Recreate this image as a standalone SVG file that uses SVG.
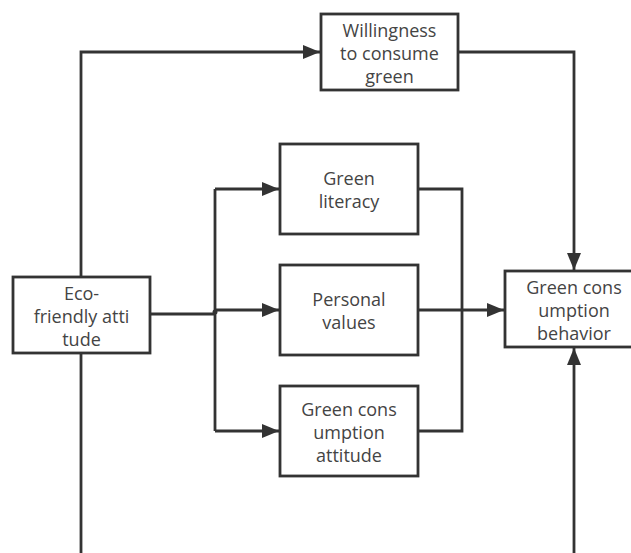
<svg xmlns="http://www.w3.org/2000/svg" width="631" height="553" viewBox="0 0 631 553">
<defs>
<style>
.box{fill:#fff;stroke:#333;stroke-width:2.8}
.ln{fill:none;stroke:#333;stroke-width:2.8}
.t{font-family:"Segoe UI","Open Sans","Noto Sans",sans-serif;font-size:18px;fill:#444;text-anchor:middle}
</style>
<marker id="ah" markerUnits="userSpaceOnUse" markerWidth="17" markerHeight="14" refX="17" refY="7" orient="auto">
<path d="M0,0 L17,7 L0,14 Z" fill="#333"/>
</marker>
</defs>
<rect width="631" height="553" fill="#fff"/>
<g id="connectors">
<path class="ln" d="M81,277 V52 H320" marker-end="url(#ah)"/>
<path class="ln" d="M81,353 V553"/>
<path class="ln" d="M458,52 H574 V270" marker-end="url(#ah)"/>
<path class="ln" d="M574,553 V348" marker-end="url(#ah)"/>
<path class="ln" d="M150,314 H215"/>
<path class="ln" d="M215,189 V431"/>
<path class="ln" d="M215,189 H279" marker-end="url(#ah)"/>
<path class="ln" d="M215,310 H279" marker-end="url(#ah)"/>
<path class="ln" d="M215,431 H279" marker-end="url(#ah)"/>
<circle cx="215" cy="312" r="2.5" fill="#333"/>
<path class="ln" d="M418,189 H462 V431 H418"/>
<path class="ln" d="M418,310 H504" marker-end="url(#ah)"/>
</g>
<g id="willingness">
<rect class="box" x="321" y="14" width="137" height="76"/>
<text class="t" x="389.5" y="37">Willingness</text>
<text class="t" x="389.5" y="60">to consume</text>
<text class="t" x="389.5" y="83">green</text>
</g>
<g id="eco">
<rect class="box" x="13" y="277" width="137" height="76"/>
<text class="t" x="81.5" y="300">Eco-</text>
<text class="t" x="81.5" y="323">friendly atti</text>
<text class="t" x="81.5" y="346">tude</text>
</g>
<g id="literacy">
<rect class="box" x="280" y="144" width="138" height="90"/>
<text class="t" x="349" y="185">Green</text>
<text class="t" x="349" y="208">literacy</text>
</g>
<g id="values">
<rect class="box" x="280" y="265" width="138" height="90"/>
<text class="t" x="349" y="306">Personal</text>
<text class="t" x="349" y="329">values</text>
</g>
<g id="attitude">
<rect class="box" x="280" y="386" width="138" height="90"/>
<text class="t" x="349" y="416">Green cons</text>
<text class="t" x="349" y="439">umption</text>
<text class="t" x="349" y="462">attitude</text>
</g>
<g id="behavior">
<rect class="box" x="505" y="271" width="138" height="76"/>
<text class="t" x="574" y="294">Green cons</text>
<text class="t" x="574" y="317">umption</text>
<text class="t" x="574" y="340">behavior</text>
</g>
</svg>
